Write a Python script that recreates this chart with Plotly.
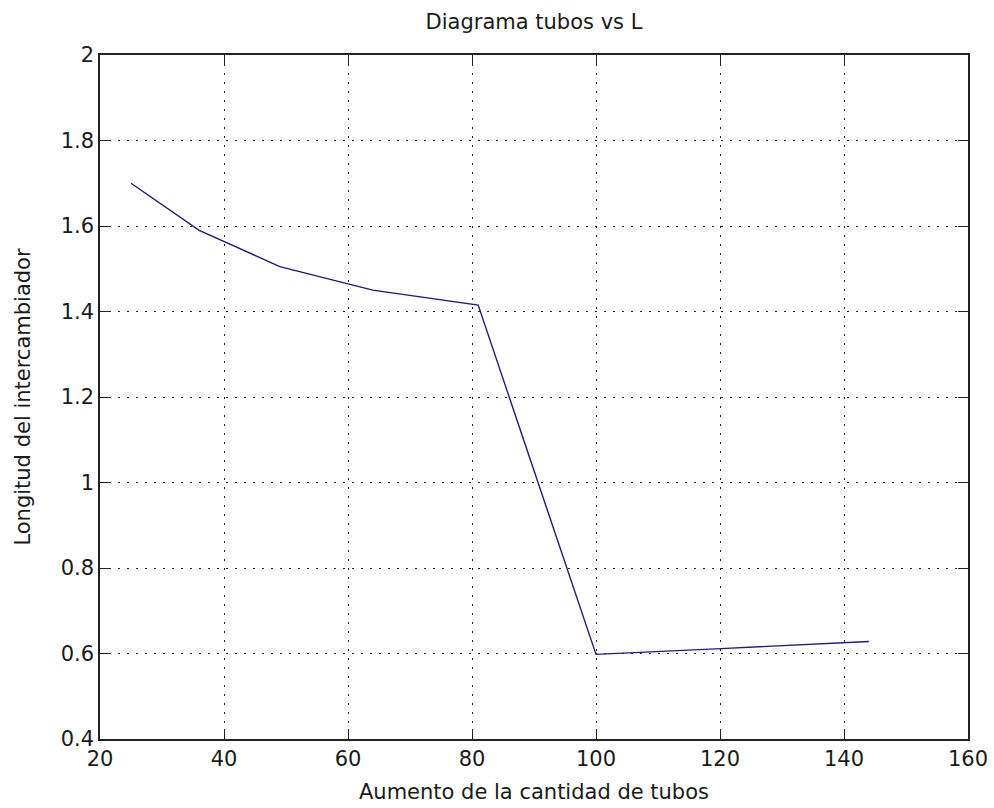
import plotly.graph_objects as go

tubos = [25, 36, 49, 64, 81, 100, 121, 144]
longitud = [1.70, 1.59, 1.505, 1.45, 1.415, 0.598, 0.612, 0.628]

x_ticks = [20, 40, 60, 80, 100, 120, 140, 160]
y_ticks = [0.4, 0.6, 0.8, 1.0, 1.2, 1.4, 1.6, 1.8, 2.0]
y_labels = ["0.4", "0.6", "0.8", "1", "1.2", "1.4", "1.6", "1.8", "2"]

fig = go.Figure()
fig.add_trace(go.Scatter(x=tubos, y=longitud, mode="lines",
                         line=dict(color="#1c1c7a", width=1.4), showlegend=False))

font = dict(family="DejaVu Sans, Liberation Sans, sans-serif", size=21, color="#1a1a1a")
axis_common = dict(
    showgrid=True, gridcolor="#222222", griddash="2px,7px", gridwidth=1,
    showline=True, linecolor="#222222", linewidth=1.5, mirror="ticks",
    ticks="inside", ticklen=10, tickcolor="#222222", tickwidth=1,
    zeroline=False, tickfont=font, automargin=False,
)
fig.update_xaxes(range=[20, 160], tickvals=x_ticks,
                 title=dict(text="Aumento de la cantidad de tubos", font=font, standoff=14),
                 **axis_common)
fig.update_yaxes(range=[0.4, 2.0], tickvals=y_ticks, ticktext=y_labels,
                 title=dict(text="Longitud del intercambiador", font=font, standoff=24),
                 **axis_common)
fig.update_layout(
    width=994, height=808,
    margin=dict(l=100, r=26, t=55, b=69, autoexpand=False),
    paper_bgcolor="white", plot_bgcolor="white",
    title=dict(text="Diagrama tubos vs L", x=(100 + 968) / 2 / 994, xanchor="center",
               y=1 - 22 / 808, yanchor="middle", font=dict(family=font["family"], size=21, color="#1a1a1a")),
    font=font,
)
fig.write_html("out.html")
